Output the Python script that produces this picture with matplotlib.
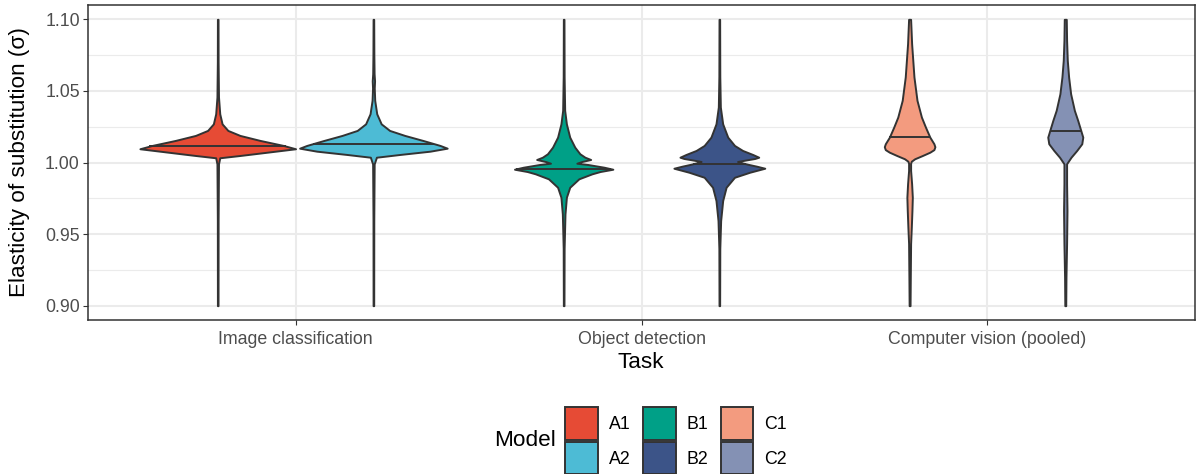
import matplotlib
matplotlib.use("Agg")
import matplotlib.pyplot as plt
from matplotlib.patches import Patch
import numpy as np

plt.rcParams["font.family"] = ["Liberation Sans", "DejaVu Sans"]

# ---- data -----------------------------------------------------------------
tasks = ["Image classification", "Object detection", "Computer vision (pooled)"]
models = ["A1", "A2", "B1", "B2", "C1", "C2"]
model_task = ["Image classification", "Image classification",
              "Object detection", "Object detection",
              "Computer vision (pooled)", "Computer vision (pooled)"]

# kernel density profiles (sigma grid, scaled density; widest violin = 1)
a1_sigma = [0.900, 0.960, 0.999, 1.0033, 1.0041, 1.0049, 1.0072, 1.0096, 1.0119,
            1.0154, 1.0189, 1.0224, 1.027, 1.034, 1.0457, 1.070, 1.100]
a1_density = [0.004, 0.005, 0.010, 0.026, 0.156, 0.286, 0.636, 1.000, 0.844,
              0.545, 0.286, 0.130, 0.056, 0.026, 0.010, 0.005, 0.004]

a2_sigma = [0.900, 0.960, 0.999, 1.0037, 1.0046, 1.0056, 1.0079, 1.0100, 1.0119,
            1.0154, 1.0189, 1.0224, 1.027, 1.034, 1.0434, 1.052, 1.057, 1.062,
            1.075, 1.100]
a2_density = [0.004, 0.005, 0.010, 0.039, 0.182, 0.338, 0.727, 0.948, 0.857,
              0.636, 0.403, 0.208, 0.100, 0.043, 0.017, 0.011, 0.015, 0.009,
              0.006, 0.004]

b1_sigma = [0.900, 0.940, 0.964, 0.9757, 0.9827, 0.9886, 0.9921, 0.9937, 0.9953,
            0.9967, 0.9986, 0.9995, 1.0007, 1.0021, 1.0037, 1.0061, 1.0107,
            1.0177, 1.027, 1.0364, 1.060, 1.100]
b1_density = [0.004, 0.006, 0.017, 0.035, 0.078, 0.195, 0.364, 0.468, 0.632,
              0.519, 0.312, 0.169, 0.234, 0.347, 0.273, 0.208, 0.143,
              0.078, 0.035, 0.013, 0.006, 0.004]

b2_sigma = [0.900, 0.940, 0.9594, 0.9734, 0.9827, 0.9897, 0.9932, 0.9960, 0.9974,
            0.9988, 1.0000, 1.0007, 1.0016, 1.0028, 1.0037, 1.0056, 1.0084,
            1.0119, 1.0177, 1.027, 1.0387, 1.060, 1.100]
b2_density = [0.004, 0.006, 0.017, 0.043, 0.087, 0.195, 0.390, 0.584, 0.481,
              0.364, 0.273, 0.234, 0.325, 0.455, 0.506, 0.429, 0.299,
              0.195, 0.108, 0.043, 0.013, 0.006, 0.004]

c1_sigma = [0.900, 0.9198, 0.9434, 0.9548, 0.9664, 0.9757, 0.9851, 0.9944, 0.9995,
            1.0009, 1.0026, 1.0049, 1.0072, 1.0090, 1.0110, 1.0131, 1.0177,
            1.0247, 1.0317, 1.0434, 1.0597, 1.083, 1.100]
c1_density = [0.006, 0.009, 0.013, 0.022, 0.030, 0.035, 0.026, 0.013, 0.013,
              0.022, 0.065, 0.165, 0.260, 0.312, 0.325, 0.312, 0.260,
              0.204, 0.152, 0.095, 0.056, 0.026, 0.013]

c2_sigma = [0.900, 0.920, 0.9434, 0.9664, 0.985, 0.9991, 1.0037, 1.0084, 1.0131,
            1.0177, 1.0224, 1.0294, 1.0364, 1.048, 1.0597, 1.0713, 1.0853, 1.100]
c2_density = [0.006, 0.009, 0.017, 0.022, 0.017, 0.017, 0.074, 0.147, 0.212,
              0.225, 0.199, 0.160, 0.117, 0.069, 0.043, 0.026, 0.017, 0.013]

medians = [1.0114, 1.0131, 0.9956, 0.9991, 1.0177, 1.0219]

y_ticks = [0.90, 0.95, 1.00, 1.05, 1.10]

# ---- style ----------------------------------------------------------------
palette = {"A1": "#E64B35", "A2": "#4DBBD5", "B1": "#00A087",
           "B2": "#3C5488", "C1": "#F39B7F", "C2": "#8491B4"}
outline = "#333333"
lw = 1.4
dodge = 0.9

profiles = {
    "A1": (a1_sigma, a1_density), "A2": (a2_sigma, a2_density),
    "B1": (b1_sigma, b1_density), "B2": (b2_sigma, b2_density),
    "C1": (c1_sigma, c1_density), "C2": (c2_sigma, c2_density),
}

fig = plt.figure(figsize=(12, 4.74), dpi=100)
ax = fig.add_axes([88 / 1200, 1 - 320 / 474, 1107 / 1200, 315 / 474])

# panel grid
ax.set_facecolor("white")
for v in y_ticks:
    ax.axhline(v, color="#EBEBEB", lw=1.5, zorder=0)
for lo, hi in zip(y_ticks[:-1], y_ticks[1:]):
    ax.axhline((lo + hi) / 2, color="#EBEBEB", lw=0.8, zorder=0)
for i in range(len(tasks)):
    ax.axvline(i, color="#EBEBEB", lw=1.5, zorder=0)

# violins, dodged within each task
for m, task, med in zip(models, model_task, medians):
    ti = tasks.index(task)
    group = [mm for mm, tt in zip(models, model_task) if tt == task]
    k = group.index(m)
    slot = dodge / len(group)
    x0 = ti - dodge / 2 + slot * (k + 0.5)
    sig, dens = profiles[m]
    sig = np.asarray(sig)
    half = np.asarray(dens) * slot / 2
    ax.fill_betweenx(sig, x0 - half, x0 + half, facecolor=palette[m],
                     edgecolor=outline, linewidth=lw, zorder=2,
                     joinstyle="round")
    hw = np.interp(med, sig, half)
    ax.plot([x0 - hw, x0 + hw], [med, med], color=outline, lw=lw,
            solid_capstyle="butt", zorder=3)

ax.set_xlim(-0.6, len(tasks) - 0.4)
ax.set_ylim(0.89, 1.11)
ax.set_xticks(range(len(tasks)))
ax.set_xticklabels(tasks)
ax.set_yticks(y_ticks)
ax.set_yticklabels([f"{v:.2f}" for v in y_ticks])
ax.tick_params(axis="both", length=3.4, width=0.8, color=outline,
               labelcolor="#4D4D4D", labelsize=12.8, pad=2.5)
ax.tick_params(axis="x", pad=4.2)
for s in ax.spines.values():
    s.set_color(outline)
    s.set_linewidth(1.1)
    s.set_zorder(5)

fig.text(20 / 1200, 1 - 162 / 474, "Elasticity of substitution (\u03c3)",
         rotation=90, ha="center", va="center", fontsize=16.2, color="black")
fig.text(641 / 1200, 1 - 362 / 474, "Task", ha="center", va="center",
         fontsize=16.2, color="black")

# legend
handles = [Patch(facecolor=palette[m], edgecolor=outline, linewidth=lw, label=m)
           for m in models]
leg = fig.legend(handles=handles, ncol=3, loc="upper left",
                 bbox_to_anchor=(565 / 1200, 1 - 407 / 474),
                 frameon=False, fontsize=12.8, handlelength=1.85,
                 handleheight=2.45, labelspacing=0.12, handletextpad=0.62,
                 columnspacing=0.68, borderpad=0, borderaxespad=0)
fig.text(494 / 1200, 1 - 441 / 474, "Model", ha="left", va="center",
         fontsize=16.2, color="black")

fig.savefig("out.png", dpi=100)
